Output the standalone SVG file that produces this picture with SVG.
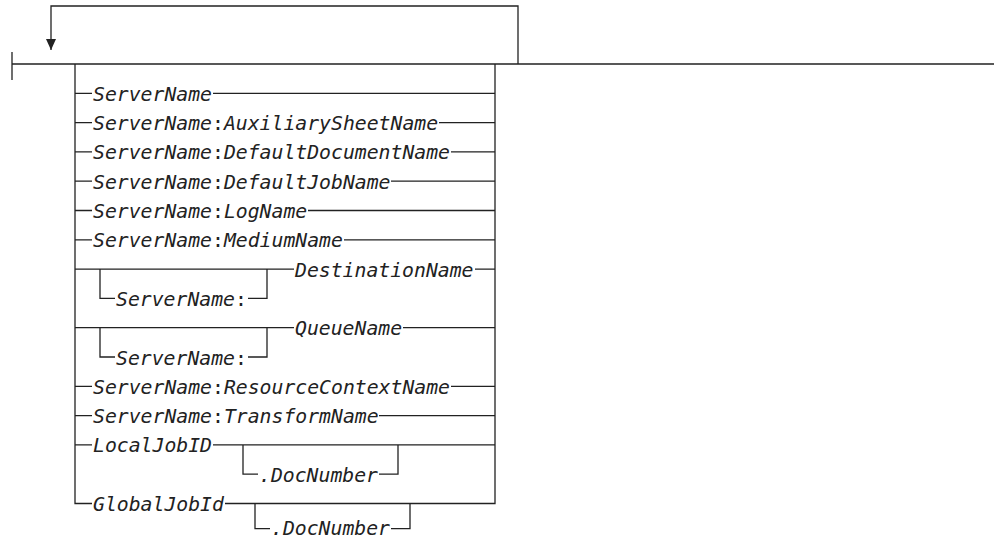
<svg xmlns="http://www.w3.org/2000/svg" width="994" height="540" viewBox="0 0 994 540">
<style>
.c{fill:none;stroke:#222;stroke-width:1.3}
text{font-family:"DejaVu Sans Mono","Liberation Mono",monospace;font-size:19.77px;font-style:italic;fill:#222}
.n{font-style:normal}
</style>
<defs>
<marker id="ah" viewBox="0 0 10 11" refX="5" refY="11" markerWidth="10" markerHeight="11" markerUnits="userSpaceOnUse" orient="0">
<path d="M0,0 L10,0 L5,11 Z" fill="#222"/>
</marker>
</defs>
<rect width="994" height="540" fill="#fff"/>
<g id="connectors">
<path class="c" d="M12,52 V80 M12,64 H994"/>
<path class="c" d="M518,64 V6 H51 V50" marker-end="url(#ah)"/>
<path class="c" d="M75,64 V503.5 H92 M495,64 V503.5 H225"/>
<path class="c" d="M75,93.3 H92 M213,93.3 H495"/>
<path class="c" d="M75,122.6 H92 M439,122.6 H495"/>
<path class="c" d="M75,151.9 H92 M451,151.9 H495"/>
<path class="c" d="M75,181.2 H92 M391,181.2 H495"/>
<path class="c" d="M75,210.5 H92 M308,210.5 H495"/>
<path class="c" d="M75,239.8 H92 M344,239.8 H495"/>
<path class="c" d="M75,269.1 H294 M475,269.1 H495 M100,269.1 V298.4 H115 M248,298.4 H267 V269.1"/>
<path class="c" d="M75,327.7 H294 M403,327.7 H495 M100,327.7 V357 H115 M248,357 H267 V327.7"/>
<path class="c" d="M75,386.3 H92 M451,386.3 H495"/>
<path class="c" d="M75,415.6 H92 M379,415.6 H495"/>
<path class="c" d="M75,444.9 H92 M213,444.9 H495 M243,444.9 V474.2 H258 M379,474.2 H398 V444.9"/>
<path class="c" d="M255,503.5 V528.6 H270 M391,528.6 H410 V503.5"/>
</g>
<g id="n1"><text x="93" y="100.8">ServerName</text></g>
<g id="n2"><text x="93" y="130.1">ServerName<tspan class="n">:</tspan>AuxiliarySheetName</text></g>
<g id="n3"><text x="93" y="159.4">ServerName<tspan class="n">:</tspan>DefaultDocumentName</text></g>
<g id="n4"><text x="93" y="188.7">ServerName<tspan class="n">:</tspan>DefaultJobName</text></g>
<g id="n5"><text x="93" y="218">ServerName<tspan class="n">:</tspan>LogName</text></g>
<g id="n6"><text x="93" y="247.3">ServerName<tspan class="n">:</tspan>MediumName</text></g>
<g id="n7"><text x="295" y="276.6">DestinationName</text></g>
<g id="n8"><text x="116" y="305.9">ServerName<tspan class="n">:</tspan></text></g>
<g id="n9"><text x="295" y="335.2">QueueName</text></g>
<g id="n10"><text x="116" y="364.5">ServerName<tspan class="n">:</tspan></text></g>
<g id="n11"><text x="93" y="393.8">ServerName<tspan class="n">:</tspan>ResourceContextName</text></g>
<g id="n12"><text x="93" y="423.1">ServerName<tspan class="n">:</tspan>TransformName</text></g>
<g id="n13"><text x="93" y="452.4">LocalJobID</text></g>
<g id="n14"><text x="259" y="481.7">.DocNumber</text></g>
<g id="n15"><text x="93" y="511">GlobalJobId</text></g>
<g id="n16"><text x="271" y="535">.DocNumber</text></g>
</svg>
